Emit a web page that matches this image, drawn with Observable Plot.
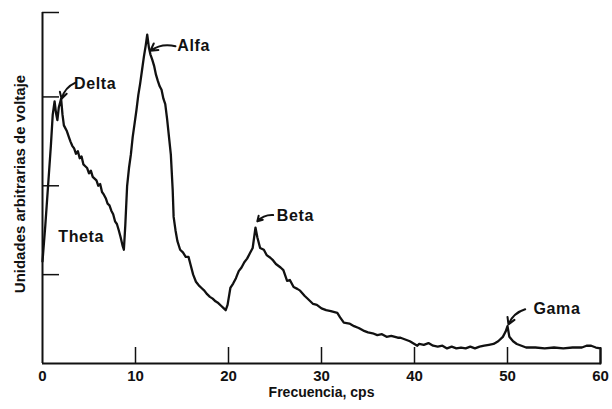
<!DOCTYPE html>
<html>
<head>
<meta charset="utf-8">
<script src="https://cdn.jsdelivr.net/npm/d3@7"></script>
<script src="https://cdn.jsdelivr.net/npm/@observablehq/plot@0.6"></script>
<style>
  html, body { margin: 0; padding: 0; background: #fff; }
  svg { display: block; }
  .band-label text { letter-spacing: 0.6px; }
</style>
</head>
<body>
<div id="chart"></div>
<script>
// Frequency (cps) and voltage (arbitrary units)
const freq = [0.0,0.3,0.6,0.9,1.1,1.3,1.45,1.6,1.75,2.0,2.15,2.3,2.6,2.8,3.0,3.2,3.4,3.6,3.8,4.0,4.2,4.4,4.6,4.8,5.0,5.2,5.4,5.6,5.8,6.0,6.2,6.4,6.6,6.8,7.0,7.2,7.4,7.6,7.8,8.0,8.2,8.4,8.6,8.75,8.9,9.1,9.3,9.5,9.7,9.9,10.1,10.3,10.5,10.7,10.9,11.1,11.26,11.45,11.6,11.8,12.0,12.2,12.4,12.6,12.8,13.0,13.2,13.4,13.6,13.8,14.0,14.1,14.3,14.5,14.8,15.1,15.4,15.7,15.9,16.2,16.5,16.8,17.1,17.4,17.7,18.0,18.3,18.6,18.9,19.2,19.5,19.7,19.9,20.2,20.5,20.8,21.1,21.4,21.7,22.0,22.3,22.6,22.9,23.1,23.4,23.8,24.1,24.5,24.8,25.1,25.6,25.9,26.3,26.6,27.0,27.4,27.7,28.2,28.6,29.1,29.5,30.0,30.5,31.0,31.7,32.0,32.4,33.0,33.5,34.0,34.5,35.0,35.5,36.0,36.5,37.0,37.5,38.2,38.5,39.0,39.5,40.3,40.5,41.0,41.5,42.0,42.5,43.0,43.5,44.0,44.5,45.0,45.5,46.0,46.5,47.0,47.5,48.0,48.5,49.0,49.5,49.8,50.0,50.2,50.6,51.0,51.5,52.0,53.0,54.0,55.0,56.0,57.0,58.0,58.5,59.0,59.5,60.0,60.0];
const volt = [1.15,1.55,2.0,2.45,2.8,2.95,2.82,2.74,2.88,2.98,2.8,2.68,2.62,2.56,2.5,2.45,2.42,2.36,2.39,2.31,2.33,2.24,2.22,2.2,2.14,2.17,2.1,2.08,2.06,2.0,2.02,1.93,1.9,1.86,1.8,1.78,1.72,1.68,1.6,1.57,1.5,1.42,1.33,1.28,1.55,2.0,2.2,2.35,2.55,2.7,2.85,3.02,3.15,3.3,3.45,3.58,3.7,3.55,3.48,3.42,3.35,3.25,3.18,3.12,3.08,2.98,2.92,2.75,2.55,2.35,1.95,1.65,1.5,1.38,1.28,1.25,1.2,1.2,1.12,1.0,0.92,0.88,0.85,0.82,0.78,0.75,0.73,0.7,0.68,0.65,0.62,0.6,0.66,0.85,0.9,0.96,1.04,1.08,1.14,1.18,1.24,1.3,1.53,1.42,1.3,1.28,1.22,1.19,1.16,1.12,1.08,1.05,0.93,0.94,0.86,0.84,0.82,0.76,0.72,0.67,0.66,0.62,0.6,0.59,0.57,0.52,0.46,0.45,0.42,0.4,0.37,0.35,0.34,0.32,0.33,0.3,0.31,0.29,0.29,0.27,0.25,0.2,0.22,0.21,0.23,0.2,0.19,0.2,0.17,0.19,0.17,0.18,0.17,0.19,0.17,0.19,0.2,0.21,0.22,0.25,0.3,0.36,0.42,0.3,0.25,0.22,0.2,0.18,0.18,0.17,0.18,0.17,0.18,0.18,0.2,0.2,0.18,0.17,0.0];

const xTicks = [0, 10, 20, 30, 40, 50, 60];
const yTicks = [1, 2, 3];
const yTop = 3.95;

const bandNames = ["Delta", "Alfa", "Theta", "Beta", "Gama"];
const bandLabelX = [3.4, 14.5, 1.7, 25.2, 52.8];
const bandLabelY = [3.15, 3.57, 1.43, 1.66, 0.62];

const pointerNames = ["Delta", "Alfa", "Beta", "Gama"];
const pointerX1 = [3.55, 14.3, 24.8, 51.9];
const pointerY1 = [3.16, 3.57, 1.67, 0.61];
const pointerX2 = [2.05, 11.6, 23.1, 50.1];
const pointerY2 = [2.98, 3.52, 1.6, 0.44];

const xLabel = "Frecuencia, cps";
const yLabel = "Unidades arbitrarias de voltaje";

const trace = freq.map((f, i) => ({f, v: volt[i]}));
const bands = bandNames.map((name, i) => ({name, x: bandLabelX[i], y: bandLabelY[i]}));
const pointers = pointerNames.map((name, i) => ({name, x1: pointerX1[i], y1: pointerY1[i], x2: pointerX2[i], y2: pointerY2[i]}));

const W = 612, H = 409;
const mt = 12, mr = 12, mb = 46, ml = 42;
const innerW = W - ml - mr, innerH = H - mt - mb;

const chart = Plot.plot({
  width: W,
  height: H,
  marginTop: mt, marginRight: mr, marginBottom: mb, marginLeft: ml,
  style: {fontFamily: "'Liberation Sans', Arial, sans-serif", color: "#111", background: "#fff"},
  x: {domain: [0, 60], axis: null},
  y: {domain: [0, yTop], axis: null},
  marks: [
    // inward ticks
    Plot.ruleX(xTicks.slice(1), {x: d => d, stroke: "#111", strokeWidth: 1.5, insetTop: innerH - 16}),
    Plot.ruleY(yTicks.concat([yTop]), {y: d => d, stroke: "#111", strokeWidth: 1.5, insetRight: innerW - 17}),
    // axis lines
    Plot.ruleX([0], {stroke: "#111", strokeWidth: 2}),
    Plot.ruleY([0], {stroke: "#111", strokeWidth: 2}),
    Plot.axisX(xTicks, {tickSize: 0, tickPadding: 7, fontSize: 15, fontWeight: "bold", label: null}),
    // trace
    Plot.line(trace, {x: "f", y: "v", stroke: "#111", strokeWidth: 2.3, strokeLinejoin: "round"}),
    // pointers
    Plot.arrow(pointers, {x1: "x1", y1: "y1", x2: "x2", y2: "y2", bend: -25, headLength: 6, stroke: "#111", strokeWidth: 2}),
    // band labels
    Plot.text(bands, {x: "x", y: "y", text: "name", textAnchor: "start", fontSize: 16, fontWeight: "bold", fill: "#111", className: "band-label"}),
    // axis titles
    Plot.text([xLabel], {frameAnchor: "bottom", dy: 33, text: d => d, fontSize: 14, fontWeight: "bold", fill: "#111"}),
    Plot.text([yLabel], {frameAnchor: "left", textAnchor: "middle", dx: -22, dy: -4, rotate: -90, text: d => d, fontSize: 15, fontWeight: "bold", fill: "#111"})
  ]
});
document.getElementById("chart").appendChild(chart);
</script>
</body>
</html>
